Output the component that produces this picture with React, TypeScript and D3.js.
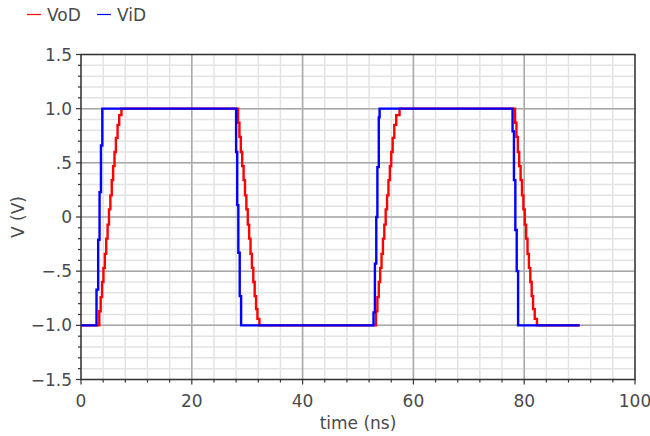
import React from "react";
import * as d3 from "d3";

const seriesNames = ["VoD", "ViD"];
const seriesColors = ["#ff0000", "#0000ff"];

// VoD (output) : [time ns, volts]
const vodPoints: [number, number][] = [
  [0, -1.0],
  [3.3, -0.87], [3.55, -0.74], [3.8, -0.6], [4.05, -0.47], [4.3, -0.34], [4.55, -0.2],
  [4.8, -0.07], [5.05, 0.07], [5.3, 0.2], [5.55, 0.34], [5.8, 0.47], [6.05, 0.6],
  [6.3, 0.73], [6.6, 0.85], [6.9, 0.94], [7.3, 1.0],
  [28.2, 1.0], [28.35, 0.87], [28.6, 0.74], [28.85, 0.6], [29.1, 0.47], [29.35, 0.34],
  [29.6, 0.2], [29.85, 0.07], [30.1, -0.07], [30.35, -0.2], [30.6, -0.34], [30.85, -0.47],
  [31.1, -0.6], [31.35, -0.73], [31.6, -0.85], [31.85, -0.94], [32.2, -1.0],
  [53.1, -1.0], [53.25, -0.87], [53.5, -0.74], [53.75, -0.6], [54.0, -0.47], [54.25, -0.34],
  [54.5, -0.2], [54.75, -0.07], [55.0, 0.07], [55.25, 0.2], [55.5, 0.34], [55.75, 0.47],
  [56.0, 0.6], [56.25, 0.73], [56.55, 0.85], [56.9, 0.94], [57.5, 1.0],
  [78.2, 1.0], [78.35, 0.87], [78.6, 0.74], [78.85, 0.6], [79.1, 0.47], [79.35, 0.34],
  [79.6, 0.2], [79.85, 0.07], [80.1, -0.07], [80.35, -0.2], [80.6, -0.34], [80.85, -0.47],
  [81.1, -0.6], [81.35, -0.73], [81.6, -0.85], [81.9, -0.94], [82.3, -1.0],
  [90, -1.0],
];

// ViD (input) : [time ns, volts]
const vidPoints: [number, number][] = [
  [0, -1.0], [2.8, -0.67], [3.1, -0.21], [3.35, 0.23], [3.6, 0.66], [3.85, 1.0],
  [28.0, 0.6], [28.2, 0.11], [28.4, -0.33], [28.65, -0.73], [28.9, -1.0],
  [52.8, -0.88], [53.05, -0.43], [53.3, 0.0], [53.5, 0.46], [53.75, 0.92], [53.9, 1.0],
  [77.9, 0.79], [78.15, 0.34], [78.4, -0.12], [78.65, -0.5], [78.9, -1.0],
  [90, -1.0],
];

const xMajorTicks = [0, 20, 40, 60, 80, 100];
const xTickLabels = ["0", "20", "40", "60", "80", "100"];
const xMinorTicks = d3.range(0, 101, 4);
const yMajorTicks = [-1.5, -1.0, -0.5, 0, 0.5, 1.0, 1.5];
const yTickLabels = ["\u22121.5", "\u22121.0", "\u2212.5", "0", ".5", "1.0", "1.5"];
const yMinorTicks = d3.range(-15, 16, 1).map((d) => d / 10);

const W = 650;
const H = 436;
const M = { left: 81, right: 635, top: 54.5, bottom: 379.5 };
const FONT = "DejaVu Sans, sans-serif";

export default function App() {
  const x = d3.scaleLinear().domain([0, 100]).range([M.left, M.right]);
  const y = d3.scaleLinear().domain([-1.5, 1.5]).range([M.bottom, M.top]);
  const line = d3
    .line<[number, number]>()
    .x((d) => x(d[0]))
    .y((d) => y(d[1]))
    .curve(d3.curveStepAfter);
  const series = [vodPoints, vidPoints];
  const textColor = "#4a4a4a";

  return (
    <svg
      width={W}
      height={H}
      style={{ position: "absolute", left: 0, top: 0, background: "#fff" }}
      fontFamily={FONT}
    >
      <rect x={0} y={0} width={W} height={H} fill="#fff" />
      {/* minor grid */}
      {xMinorTicks.map((t) => (
        <line key={"xm" + t} x1={x(t)} x2={x(t)} y1={M.top} y2={M.bottom} stroke="#e3e3e3" strokeWidth={1.5} />
      ))}
      {yMinorTicks.map((t) => (
        <line key={"ym" + t} x1={M.left} x2={M.right} y1={y(t)} y2={y(t)} stroke="#e3e3e3" strokeWidth={1.5} />
      ))}
      {/* major grid */}
      {xMajorTicks.slice(1, -1).map((t) => (
        <line key={"xg" + t} x1={x(t)} x2={x(t)} y1={M.top} y2={M.bottom} stroke="#a8a8a8" strokeWidth={1.5} />
      ))}
      {yMajorTicks.slice(1, -1).map((t) => (
        <line key={"yg" + t} x1={M.left} x2={M.right} y1={y(t)} y2={y(t)} stroke="#a8a8a8" strokeWidth={1.5} />
      ))}
      {/* frame */}
      <rect x={M.left} y={M.top} width={M.right - M.left} height={M.bottom - M.top} fill="none" stroke="#333" strokeWidth={1.5} />
      {/* ticks */}
      {xMinorTicks.map((t) => (
        <line key={"xt" + t} x1={x(t)} x2={x(t)} y1={M.bottom} y2={M.bottom + (t % 20 === 0 ? 5 : 3)} stroke="#333" strokeWidth={1.2} />
      ))}
      {yMinorTicks.map((t) => (
        <line key={"yt" + t} x1={M.left} x2={M.left - (Math.round(t * 10) % 5 === 0 ? 5 : 3)} y1={y(t)} y2={y(t)} stroke="#333" strokeWidth={1.2} />
      ))}
      {/* series */}
      {series.map((pts, i) => (
        <path key={"s" + i} d={line(pts) || ""} fill="none" stroke={seriesColors[i]} strokeWidth={2.4} />
      ))}
      {/* tick labels */}
      {xMajorTicks.map((t, i) => (
        <text key={"xl" + t} x={x(t)} y={407} textAnchor="middle" fontSize={17} fill={textColor}>
          {xTickLabels[i]}
        </text>
      ))}
      {yMajorTicks.map((t, i) => (
        <text key={"yl" + t} x={72} y={y(t) + 6} textAnchor="end" fontSize={17} fill={textColor}>
          {yTickLabels[i]}
        </text>
      ))}
      {/* axis titles */}
      <text x={(M.left + M.right) / 2} y={429} textAnchor="middle" fontSize={17} fill={textColor}>
        time (ns)
      </text>
      <text transform={`translate(24,${(M.top + M.bottom) / 2}) rotate(-90)`} textAnchor="middle" fontSize={17} fill={textColor}>
        V (V)
      </text>
      {/* legend */}
      {seriesNames.map((n, i) => {
        const lx = i === 0 ? 27 : 97;
        return (
          <g key={"lg" + n}>
            <line x1={lx} x2={lx + 14} y1={14.5} y2={14.5} stroke={seriesColors[i]} strokeWidth={1.2} />
            <text x={lx + 20} y={21} fontSize={17} fill={textColor}>
              {n}
            </text>
          </g>
        );
      })}
    </svg>
  );
}
